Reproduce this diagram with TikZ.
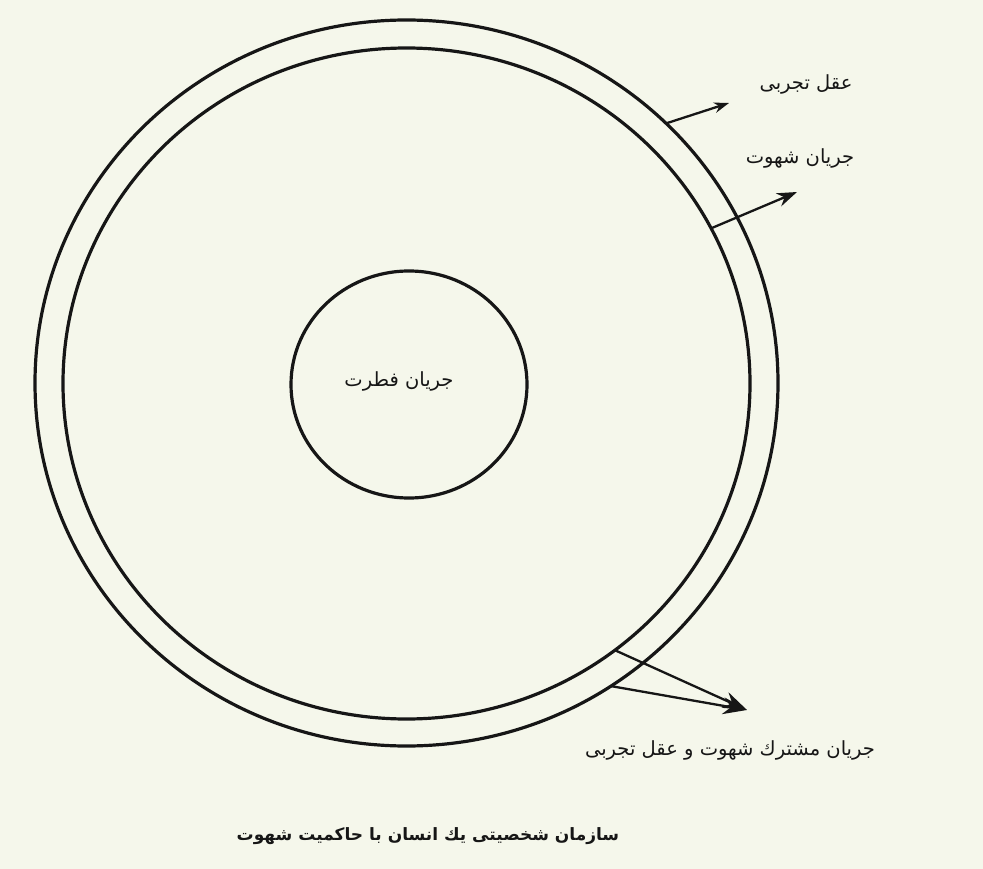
\documentclass[tikz,border=0pt]{standalone}
\usepackage{fontspec}
\usetikzlibrary{shapes.geometric}
\usetikzlibrary{arrows.meta}
\TeXXeTstate=1
\newfontfamily\arabicfont[Script=Arabic]{DejaVu Sans}
\definecolor{paper}{RGB}{245,247,235}
\definecolor{ink}{RGB}{22,22,22}
\newcommand{\fa}[1]{{\arabicfont\beginR #1\endR}}

\begin{document}
\begin{tikzpicture}
[x=1pt,y=-1pt,ink,line width=3.2pt,%
  ring/.style={shape=ellipse,draw,inner sep=0pt,outer sep=0pt},%
  tag/.style={inner sep=0pt,font=\fontsize{19.5}{22}\selectfont},%
  pointer/.style={line width=2.3pt,-{Stealth[length=#1pt,width=0.7*#1pt]}},%
  pointer/.default=18]
\fill[paper] (0,0) rectangle (983,869);
\useasboundingbox (0,0) rectangle (983,869);
% the three circles
\node[ring,minimum width=743pt,minimum height=726pt] (outer) at (406.5,383) {};
\node[ring,minimum width=687pt,minimum height=671pt] (inner) at (406.5,383.5) {};
\node[ring,minimum width=236pt,minimum height=227pt] (fitrat) at (409,384.5) {};
% labels
\node[tag] (fitrattext) at (399,381) {\fa{جریان فطرت}};
\node[tag] (aql) at (806,84) {\fa{عقل تجربی}};
\node[tag] (shahvat) at (800,158) {\fa{جریان شهوت}};
\node[tag] (moshtarak) at (730,750) {\fa{جریان مشترك شهوت و عقل تجربی}};
\node[tag,font=\fontsize{17}{20}\selectfont\bfseries] (caption) at (428,836)
  {\fa{سازمان شخصیتی یك انسان با حاکمیت شهوت}};
% arrows
\coordinate (aqltip) at (729,103);
\coordinate (shahvattip) at (797,192);
\coordinate (moshtaraktip) at (747,710);
\draw[pointer=15] (outer.45) -- (aqltip);
\draw[pointer=20] (inner.27) -- (shahvattip);
\draw[pointer=24] (inner.308.2) -- (moshtaraktip);
\draw[pointer=24] (outer.304.4) -- (moshtaraktip);
\end{tikzpicture}
\end{document}
